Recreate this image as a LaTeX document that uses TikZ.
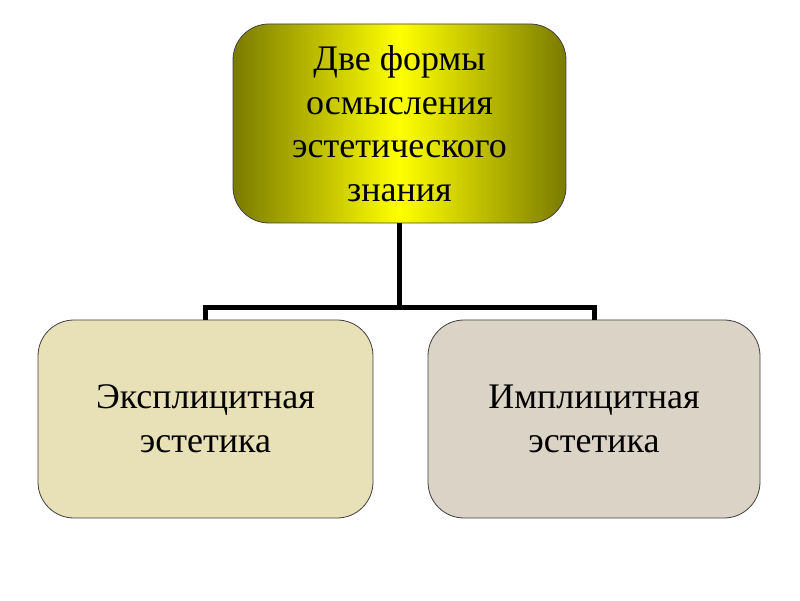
\documentclass[tikz,border=0pt]{standalone}
\usepackage{fontspec}
\setmainfont{Liberation Serif}
\begin{document}
\begin{tikzpicture}[x=1pt,y=1pt,
  box/.style={draw=black!75, line width=0.8pt, rounded corners=36pt, align=center,
    font=\fontsize{36}{43.5}\selectfont, inner sep=0pt},
  conn/.style={line width=5pt}]
\definecolor{oliv}{HTML}{7A7A00}
\definecolor{leftfill}{HTML}{E8E0B6}
\definecolor{rightfill}{HTML}{DCD3C7}
\useasboundingbox (0,0) rectangle (800,600);
\node[box, minimum width=333pt, minimum height=199pt, left color=oliv, right color=oliv, middle color=yellow] (top) at (399.5,476.5) {Две формы\\осмысления\\эстетического\\знания};
\node[box, minimum width=335pt, minimum height=198pt, fill=leftfill] (l) at (205.5,181) {Эксплицитная\\эстетика};
\node[box, minimum width=332pt, minimum height=198pt, fill=rightfill] (r) at (594,181) {Имплицитная\\эстетика};
\coordinate (j) at (399.5,292);
\draw[conn] (top.south) -- (j);
\draw[conn] (j) -| (l.north);
\draw[conn] (j) -| (r.north);
\end{tikzpicture}
\end{document}
